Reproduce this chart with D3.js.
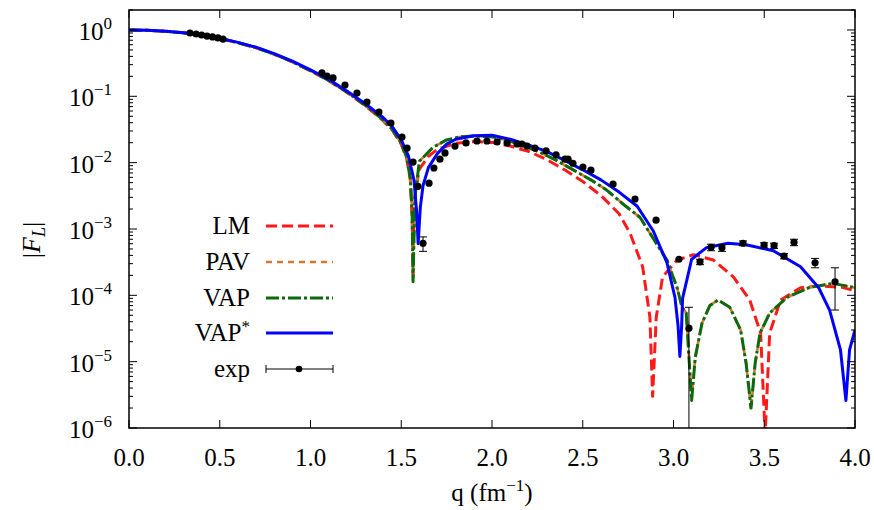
<!DOCTYPE html>
<html>
<head>
  <meta charset="utf-8">
  <title>Longitudinal form factor</title>
  <script src="https://cdn.jsdelivr.net/npm/d3@7"></script>
  <style>
    body { margin: 0; background: #fff; }
  </style>
</head>
<body>
  <div id="myChart"></div>
  <script>
    // LM curve
    const lmQ = [0, 0.1, 0.2, 0.3, 0.4, 0.5, 0.6, 0.7, 0.8, 0.9, 1.0, 1.1, 1.2, 1.3, 1.4, 1.45, 1.5, 1.53, 1.55, 1.56, 1.565, 1.57, 1.58, 1.6, 1.65, 1.7, 1.8, 1.9, 2.0, 2.1, 2.2, 2.3, 2.4, 2.5, 2.6, 2.7, 2.76, 2.83, 2.87, 2.885, 2.905, 2.94, 3.02, 3.11, 3.22, 3.33, 3.42, 3.48, 3.505, 3.53, 3.59, 3.7, 3.81, 3.93, 4.0];
    const lmF = [1.0, 0.99, 0.958, 0.905, 0.835, 0.745, 0.642, 0.54, 0.43, 0.33, 0.242, 0.172, 0.115, 0.073, 0.043, 0.031, 0.019, 0.0115, 0.0055, 0.0015, 0.0002, 0.0015, 0.004, 0.008, 0.0125, 0.016, 0.0195, 0.0208, 0.0202, 0.0178, 0.0148, 0.0112, 0.0078, 0.0052, 0.0032, 0.0017, 0.00087, 0.00027, 0.000047, 0.000003, 0.000047, 0.00019, 0.00034, 0.00041, 0.00034, 0.00019, 0.000085, 0.000027, 0.0000008, 0.000027, 0.000085, 0.00013, 0.000138, 0.000132, 0.000117];

    // PAV curve
    const pavQ = [0, 0.1, 0.2, 0.3, 0.4, 0.5, 0.6, 0.7, 0.8, 0.9, 1.0, 1.1, 1.2, 1.3, 1.4, 1.45, 1.5, 1.53, 1.55, 1.56, 1.565, 1.575, 1.6, 1.675, 1.75, 1.82, 1.9, 2.0, 2.08, 2.2, 2.26, 2.35, 2.45, 2.55, 2.63, 2.72, 2.815, 2.887, 2.964, 3.02, 3.047, 3.07, 3.1, 3.12, 3.157, 3.2, 3.245, 3.31, 3.37, 3.4, 3.427, 3.45, 3.477, 3.53, 3.625, 3.75, 3.88, 3.99, 4.0];
    const pavF = [1.0, 0.99, 0.958, 0.905, 0.835, 0.745, 0.643, 0.541, 0.432, 0.332, 0.244, 0.174, 0.116, 0.074, 0.044, 0.032, 0.0195, 0.012, 0.0058, 0.0017, 0.00018, 0.003, 0.0105, 0.017, 0.022, 0.0244, 0.0252, 0.0245, 0.022, 0.0168, 0.0145, 0.011, 0.0077, 0.0054, 0.0039, 0.0024, 0.0015, 0.00073, 0.00034, 0.00013, 0.000066, 0.000054, 0.0000028, 0.0000117, 0.000038, 0.00007, 0.000085, 0.000066, 0.00003, 0.0000095, 0.0000019, 0.0000095, 0.000027, 0.000054, 0.000093, 0.000132, 0.000151, 0.000132, 0.00013];

    // VAP curve
    const vapQ = [0, 0.1, 0.2, 0.3, 0.4, 0.5, 0.6, 0.7, 0.8, 0.9, 1.0, 1.1, 1.2, 1.3, 1.4, 1.45, 1.5, 1.53, 1.55, 1.56, 1.565, 1.575, 1.6, 1.675, 1.75, 1.82, 1.9, 2.0, 2.08, 2.2, 2.26, 2.35, 2.45, 2.55, 2.63, 2.72, 2.815, 2.887, 2.964, 3.02, 3.047, 3.07, 3.1, 3.12, 3.157, 3.2, 3.245, 3.31, 3.37, 3.4, 3.427, 3.45, 3.477, 3.53, 3.625, 3.75, 3.88, 3.99, 4.0];
    const vapF = [1.0, 0.99, 0.958, 0.905, 0.835, 0.745, 0.643, 0.541, 0.432, 0.332, 0.244, 0.174, 0.116, 0.074, 0.044, 0.032, 0.0195, 0.012, 0.0058, 0.0017, 0.00016, 0.003, 0.0105, 0.017, 0.022, 0.0244, 0.0252, 0.0245, 0.022, 0.0168, 0.0145, 0.011, 0.0077, 0.0054, 0.0039, 0.0024, 0.0015, 0.00073, 0.00034, 0.00013, 0.000066, 0.000054, 0.0000026, 0.0000117, 0.000038, 0.00007, 0.000085, 0.000066, 0.00003, 0.0000095, 0.000002, 0.0000095, 0.000027, 0.000054, 0.000093, 0.000132, 0.000151, 0.000132, 0.00013];

    // VAP* curve
    const vapsQ = [0, 0.1, 0.2, 0.3, 0.4, 0.5, 0.6, 0.7, 0.8, 0.9, 1.0, 1.1, 1.2, 1.3, 1.4, 1.45, 1.5, 1.54, 1.57, 1.585, 1.593, 1.605, 1.62, 1.65, 1.7, 1.75, 1.8, 1.9, 2.0, 2.1, 2.2, 2.3, 2.4, 2.5, 2.6, 2.7, 2.8, 2.887, 2.964, 3.008, 3.025, 3.035, 3.045, 3.05, 3.1, 3.18, 3.3, 3.4, 3.55, 3.7, 3.8, 3.86, 3.92, 3.95, 3.97, 4.0];
    const vapsF = [1.0, 0.99, 0.96, 0.91, 0.84, 0.75, 0.65, 0.55, 0.44, 0.34, 0.25, 0.18, 0.12, 0.078, 0.048, 0.035, 0.022, 0.0125, 0.0055, 0.0018, 0.0006, 0.0021, 0.0045, 0.0085, 0.0138, 0.019, 0.0225, 0.0255, 0.0258, 0.0225, 0.0185, 0.0148, 0.0108, 0.0078, 0.0055, 0.0036, 0.0022, 0.00095, 0.00031, 0.000093, 0.000035, 0.000012, 0.000035, 0.00009, 0.00035, 0.00052, 0.00061, 0.00058, 0.00047, 0.00027, 0.00013, 0.00006, 0.000015, 0.0000026, 0.000015, 0.00003];

    // experimental points
    const expQ = [0.336, 0.37, 0.40, 0.43, 0.46, 0.49, 0.518, 1.063, 1.091, 1.124, 1.19, 1.256, 1.311, 1.377, 1.443, 1.504, 1.532, 1.565, 1.592, 1.62, 1.653, 1.68, 1.713, 1.741, 1.796, 1.857, 1.917, 1.972, 2.028, 2.083, 2.138, 2.165, 2.193, 2.237, 2.298, 2.353, 2.402, 2.419, 2.446, 2.501, 2.545, 2.667, 2.788, 2.904, 3.03, 3.085, 3.146, 3.207, 3.267, 3.383, 3.499, 3.554, 3.609, 3.664, 3.78, 3.89];
    const expF = [0.90, 0.87, 0.84, 0.81, 0.785, 0.76, 0.73, 0.225, 0.202, 0.189, 0.148, 0.112, 0.082, 0.058, 0.0396, 0.0243, 0.0166, 0.0102, 0.0044, 0.00061, 0.0049, 0.0083, 0.0113, 0.014, 0.0178, 0.0198, 0.0212, 0.0212, 0.0205, 0.0198, 0.0191, 0.0191, 0.0178, 0.0166, 0.015, 0.0131, 0.0113, 0.0113, 0.0098, 0.0086, 0.0077, 0.00475, 0.00283, 0.00136, 0.00035, 0.000032, 0.00032, 0.00053, 0.00052, 0.00061, 0.00057, 0.00056, 0.00039, 0.00063, 0.00031, 0.00016];
    const expErr = [0, 0, 0, 0, 0, 0, 0, 0, 0, 0, 0, 0, 0, 0, 0, 0, 0, 0, 0, 0.00015, 0, 0, 0, 0, 0, 0, 0, 0, 0, 0, 0, 0, 0, 0, 0, 0, 0, 0, 0, 0, 0, 0, 0, 0, 0, 0.000034, 0.00003, 0.00006, 0.00006, 0.00005, 0.00005, 0.00005, 0.000035, 0.00007, 0.00005, 0.0001];

    const xTicks = [0, 0.5, 1.0, 1.5, 2.0, 2.5, 3.0, 3.5, 4.0];
    const yExps = [0, -1, -2, -3, -4, -5, -6];
    const legendNames = ["LM", "PAV", "VAP", "VAP", "exp"];

    const width = 874, height = 510;
    const margins = { top: 10, right: 19, bottom: 82, left: 129 };

    const x = d3.scaleLinear().domain([0, 4]).range([margins.left, width - margins.right]);
    const y = d3.scaleLog().domain([1e-6, 2]).range([height - margins.bottom, margins.top]);
    const yMin = 1e-6;

    const svg = d3.select("#myChart").append("svg")
      .attr("width", width)
      .attr("height", height);

    // text helper, font set on each element
    function label(parent, size) {
      return parent.append("text")
        .attr("style", "font-family:'Liberation Serif';font-size:" + size + "px")
        .attr("fill", "#000");
    }

    svg.append("clipPath").attr("id", "plotClip")
      .append("rect")
      .attr("x", x(0)).attr("y", y(2))
      .attr("width", x(4) - x(0)).attr("height", y(yMin) - y(2));

    const plot = svg.append("g").attr("clip-path", "url(#plotClip)");

    const series = [
      { q: lmQ, f: lmF, color: "#ff1a1a", dash: "11,5", w: 3 },
      { q: pavQ, f: pavF, color: "#d9762e", dash: "6,5", w: 2.6 },
      { q: vapQ, f: vapF, color: "#0b6a0b", dash: "13,3,3,3", w: 3 },
      { q: vapsQ, f: vapsF, color: "#0000ff", dash: null, w: 3 }
    ];

    const line = d3.line().x(d => x(d[0])).y(d => y(d[1]));

    series.forEach(s => {
      plot.append("path")
        .datum(s.q.map((q, i) => [q, s.f[i]]))
        .attr("d", line)
        .attr("fill", "none")
        .attr("stroke", s.color)
        .attr("stroke-width", s.w)
        .attr("stroke-dasharray", s.dash)
        .attr("stroke-linejoin", "round");
    });

    // experimental points with error bars
    const expData = expQ.map((q, i) => ({ q: q, f: expF[i], e: expErr[i] }));
    const eb = plot.append("g").attr("stroke", "#000").attr("stroke-width", 1);
    expData.filter(d => d.e > 0).forEach(d => {
      const lo = d.f - d.e > yMin ? d.f - d.e : yMin;
      const hi = d.f + d.e;
      const cx = x(d.q);
      eb.append("line").attr("x1", cx).attr("x2", cx).attr("y1", y(lo)).attr("y2", y(hi));
      eb.append("line").attr("x1", cx - 4).attr("x2", cx + 4).attr("y1", y(hi)).attr("y2", y(hi));
      if (d.f - d.e > yMin) {
        eb.append("line").attr("x1", cx - 4).attr("x2", cx + 4).attr("y1", y(lo)).attr("y2", y(lo));
      }
    });
    plot.selectAll(".dot")
      .data(expData)
      .enter().append("circle")
      .attr("class", "dot")
      .attr("cx", d => x(d.q))
      .attr("cy", d => y(d.f))
      .attr("r", 3.6)
      .attr("fill", "#000");

    // frame
    const x0 = x(0), x1 = x(4), y0 = y(yMin), y1 = y(2);
    svg.append("rect")
      .attr("x", x0).attr("y", y1)
      .attr("width", x1 - x0).attr("height", y0 - y1)
      .attr("fill", "none").attr("stroke", "#000").attr("stroke-width", 1.5);

    const ticks = svg.append("g").attr("stroke", "#000").attr("stroke-width", 1);

    // x ticks, bottom and top, inward
    xTicks.forEach(t => {
      ticks.append("line").attr("x1", x(t)).attr("x2", x(t)).attr("y1", y0).attr("y2", y0 - 8);
      ticks.append("line").attr("x1", x(t)).attr("x2", x(t)).attr("y1", y1).attr("y2", y1 + 8);
      label(svg, 25)
        .attr("x", x(t)).attr("y", y0 + 38)
        .attr("text-anchor", "middle")
        .text(t.toFixed(1));
    });

    // y ticks (log), left and right, inward
    yExps.forEach(p => {
      const v = Math.pow(10, p);
      ticks.append("line").attr("x1", x0).attr("x2", x0 + 8).attr("y1", y(v)).attr("y2", y(v));
      ticks.append("line").attr("x1", x1).attr("x2", x1 - 8).attr("y1", y(v)).attr("y2", y(v));
      for (let m = 2; m <= 9; m++) {
        const mv = m * v;
        if (mv > 2) break;
        ticks.append("line").attr("x1", x0).attr("x2", x0 + 4).attr("y1", y(mv)).attr("y2", y(mv));
        ticks.append("line").attr("x1", x1).attr("x2", x1 - 4).attr("y1", y(mv)).attr("y2", y(mv));
      }
      const lab = label(svg, 25)
        .attr("x", 112).attr("y", y(v) + 10)
        .attr("text-anchor", "end");
      lab.append("tspan").text("10");
      lab.append("tspan")
        .attr("dy", -11)
        .attr("style", "font-size:17px")
        .text(p === 0 ? "0" : "\u2212" + Math.abs(p));
    });

    // axis titles
    const yl = label(svg, 26)
      .attr("transform", "translate(40,240) rotate(-90)")
      .attr("text-anchor", "middle");
    yl.append("tspan").text("|");
    yl.append("tspan").attr("style", "font-style:italic").text("F");
    yl.append("tspan").attr("style", "font-style:italic;font-size:18px").attr("dy", 5).text("L");
    yl.append("tspan").attr("dy", -5).text("|");

    const xl = label(svg, 25)
      .attr("x", 492).attr("y", 501)
      .attr("text-anchor", "middle");
    xl.append("tspan").text("q (fm");
    xl.append("tspan").attr("dy", -10).attr("style", "font-size:17px").text("\u22121");
    xl.append("tspan").attr("dy", 10).text(")");

    // legend
    const legY = [226, 262, 298, 333, 369];
    const lg = svg.append("g");
    legendNames.forEach((name, i) => {
      const t = label(lg, 25)
        .attr("x", 250).attr("y", legY[i] + 8)
        .attr("text-anchor", "end");
      t.append("tspan").text(name);
      if (i === 3) t.append("tspan").attr("dy", -9).attr("style", "font-size:17px").text("*");
      if (i < 4) {
        const s = series[i];
        lg.append("line")
          .attr("x1", 266).attr("x2", 333)
          .attr("y1", legY[i]).attr("y2", legY[i])
          .attr("stroke", s.color).attr("stroke-width", s.w)
          .attr("stroke-dasharray", s.dash);
      } else {
        lg.append("line").attr("x1", 266).attr("x2", 333).attr("y1", legY[i]).attr("y2", legY[i])
          .attr("stroke", "#000").attr("stroke-width", 1);
        lg.append("line").attr("x1", 266).attr("x2", 266).attr("y1", legY[i] - 4).attr("y2", legY[i] + 4)
          .attr("stroke", "#000").attr("stroke-width", 1);
        lg.append("line").attr("x1", 333).attr("x2", 333).attr("y1", legY[i] - 4).attr("y2", legY[i] + 4)
          .attr("stroke", "#000").attr("stroke-width", 1);
        lg.append("circle").attr("cx", 299).attr("cy", legY[i]).attr("r", 3.3).attr("fill", "#000");
      }
    });
  </script>
</body>
</html>
